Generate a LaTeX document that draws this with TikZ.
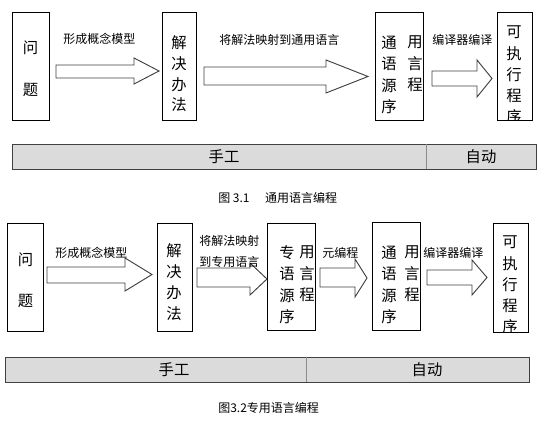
\documentclass[tikz,border=0pt]{standalone}
\usepackage{fontspec}
\newfontfamily\cjk{Noto Sans CJK SC}
\usetikzlibrary{fit}

\tikzset{
  box/.style={draw, line width=0.7pt, inner sep=0pt},
  zi/.style={font=\cjk\fontsize{11.5}{13}\selectfont, inner sep=0pt},
  lab/.style={font=\cjk\fontsize{9}{11}\selectfont, inner sep=0pt, anchor=west},
  fatarrow/.style={draw=black!75, fill=white, line width=0.7pt},
  bar/.style={draw=black!75, fill=black!14, line width=0.7pt, inner sep=0pt},
  divider/.style={draw=black!45, line width=0.7pt},
}

\begin{document}
\begin{tikzpicture}[x=0.75pt,y=-0.75pt]
  \useasboundingbox (0,0) rectangle (554,423);

  % figure 3.1
  \node[box, fit={(12,12) (49,120)}] (wenti1) {};
  \node[box, fit={(162,12) (196,120)}] (jiejue1) {};
  \node[box, fit={(375,12) (423,120)}] (tongyong1) {};
  \node[box, fit={(497,12) (532,120)}] (kezhixing1) {};

  \node[zi] (wen1) at (30.5,48) {问};
  \node[zi] (ti1) at (30.5,90) {题};
  \foreach \c [count=\i] in {解,决,办,法}
    \node[zi] (jj1-\i) at (179,{43+20.7*(\i-1)}) {\c};
  \foreach \c [count=\i] in {通,语,源,序}
    \node[zi] (tyl1-\i) at (389,{43+21.3*(\i-1)}) {\c};
  \foreach \c [count=\i] in {用,言,程}
    \node[zi] (tyr1-\i) at (415,{42+21.3*(\i-1)}) {\c};
  \begin{scope}
    \clip (kezhixing1.north west) rectangle (kezhixing1.south east);
    \foreach \c [count=\i] in {可,执,行,程,序}
      \node[zi] (kz1-\i) at (514,{32+21.2*(\i-1)}) {\c};
  \end{scope}

  \foreach \xa/\xb/\xt/\sa/\sb/\ha/\hb in {56/134/159/65/78/58/84, 204/326/368/67/85/60/93, 432/477/492/71/86/60/97}
    \draw[fatarrow] (\xa,\sa) -- (\xb,\sa) -- (\xb,\ha) -- (\xt,{(\ha+\hb)/2})
      -- (\xb,\hb) -- (\xb,\sb) -- (\xa,\sb) -- cycle;

  \node[lab] (moxing1) at (63,39) {形成概念模型};
  \node[lab] (yingshe1) at (219,40) {将解法映射到通用语言};
  \node[lab] (bianyi1) at (432,40) {编译器编译};

  \node[bar, fit={(12,144) (536,169)}] (bar1) {};
  \draw[divider] (426,0 |- bar1.north) -- (426,0 |- bar1.south);
  \node[zi] (shougong1) at (224,157) {手工};
  \node[zi] (zidong1) at (481,157) {自动};

  \node[lab] (tu1) at (218,198) {图 3.1\hspace{1.3em}通用语言编程};

  % figure 3.2
  \node[box, fit={(7,223) (43,331)}] (wenti2) {};
  \node[box, fit={(157,223) (192,331)}] (jiejue2) {};
  \node[box, fit={(267,223) (315,330)}] (zhuanyong2) {};
  \node[box, fit={(372,222) (420,330)}] (tongyong2) {};
  \node[box, fit={(493,223) (528,332)}] (kezhixing2) {};

  \node[zi] (wen2) at (25.5,260) {问};
  \node[zi] (ti2) at (25.5,301) {题};
  \foreach \c [count=\i] in {解,决,办,法}
    \node[zi] (jj2-\i) at (174,{251+21*(\i-1)}) {\c};
  \foreach \c [count=\i] in {专,语,源,序}
    \node[zi] (zyl2-\i) at (287,{253+21.3*(\i-1)}) {\c};
  \foreach \c [count=\i] in {用,言,程}
    \node[zi] (zyr2-\i) at (307,{252+21.3*(\i-1)}) {\c};
  \foreach \c [count=\i] in {通,语,源,序}
    \node[zi] (tyl2-\i) at (389,{253+21.3*(\i-1)}) {\c};
  \foreach \c [count=\i] in {用,言,程}
    \node[zi] (tyr2-\i) at (412,{252+21.3*(\i-1)}) {\c};
  \begin{scope}
    \clip (kezhixing2.north west) rectangle (kezhixing2.south east);
    \foreach \c [count=\i] in {可,执,行,程,序}
      \node[zi] (kz2-\i) at (510,{242+21.2*(\i-1)}) {\c};
  \end{scope}

  \foreach \xa/\xb/\xt/\sa/\sb/\ha/\hb in {47/125/152/267/283/258/291, 197/250/267/268/287/263/295, 320/355/367/268/287/259/297, 427/472/487/270/285/260/295}
    \draw[fatarrow] (\xa,\sa) -- (\xb,\sa) -- (\xb,\ha) -- (\xt,{(\ha+\hb)/2})
      -- (\xb,\hb) -- (\xb,\sb) -- (\xa,\sb) -- cycle;

  \node[lab] (moxing2) at (55,253) {形成概念模型};
  \node[lab] (yingshe2a) at (199,241) {将解法映射};
  \node[lab] (yingshe2b) at (199,262) {到专用语言};
  \node[lab] (yuan2) at (322,253) {元编程};
  \node[lab] (bianyi2) at (423,253) {编译器编译};

  \node[bar, fit={(5,357) (529,382)}] (bar2) {};
  \draw[divider] (306,0 |- bar2.north) -- (306,0 |- bar2.south);
  \node[zi] (shougong2) at (174,370) {手工};
  \node[zi] (zidong2) at (427,370) {自动};

  \node[lab] (tu2) at (218,408) {图3.2专用语言编程};
\end{tikzpicture}
\end{document}
